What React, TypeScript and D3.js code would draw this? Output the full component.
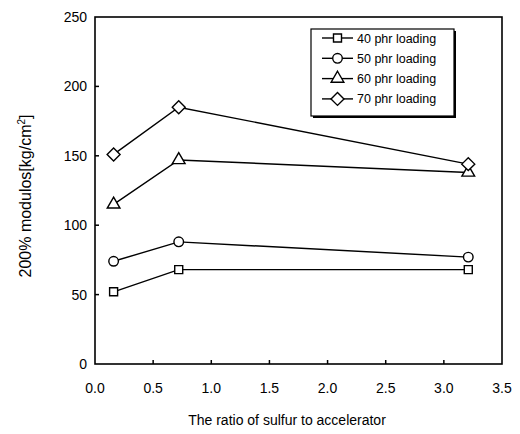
import React, { useEffect, useRef } from 'react';
import * as d3 from 'd3';

// ratio of sulfur to accelerator
const ratios = [0.16, 0.72, 3.21];
// 200% modulus values for each loading
const load40 = [52, 68, 68];
const load50 = [74, 88, 77];
const load60 = [115, 147, 138];
const load70 = [151, 185, 144];
const seriesNames = ['40 phr loading', '50 phr loading', '60 phr loading', '70 phr loading'];
const xTicks = [0, 0.5, 1, 1.5, 2, 2.5, 3, 3.5];
const yTicks = [0, 50, 100, 150, 200, 250];

// square turned on its corner, same width and height
const squareDiamond = {
    draw(ctx: any, size: number) {
        const r = Math.sqrt(size / 2);
        ctx.moveTo(0, -r);
        ctx.lineTo(r, 0);
        ctx.lineTo(0, r);
        ctx.lineTo(-r, 0);
        ctx.closePath();
    }
};

const App = () => {
    const svgRef = useRef<SVGSVGElement>(null);

    useEffect(() => {
        const W = 520, H = 434;
        const left = 95, right = 502, top = 17, bottom = 364;
        const font = 'Arial, "Liberation Sans", sans-serif';

        const svg = d3.select(svgRef.current);
        svg.selectAll('*').remove();
        svg.attr('width', W).attr('height', H);
        svg.append('rect').attr('width', W).attr('height', H).attr('fill', '#fff');

        const x = d3.scaleLinear().domain([0, 3.5]).range([left, right]);
        const y = d3.scaleLinear().domain([0, 250]).range([bottom, top]);

        // frame
        svg.append('rect')
            .attr('x', left).attr('y', top)
            .attr('width', right - left).attr('height', bottom - top)
            .attr('fill', 'none').attr('stroke', '#000').attr('stroke-width', 1.6);

        // inward ticks
        svg.append('g').selectAll('line').data(xTicks.slice(1, -1)).enter().append('line')
            .attr('x1', d => x(d)).attr('x2', d => x(d))
            .attr('y1', bottom).attr('y2', bottom - 4)
            .attr('stroke', '#000').attr('stroke-width', 1.5);
        svg.append('g').selectAll('line').data(yTicks.slice(1, -1)).enter().append('line')
            .attr('x1', left).attr('x2', left + 4)
            .attr('y1', d => y(d)).attr('y2', d => y(d))
            .attr('stroke', '#000').attr('stroke-width', 1.5);

        // tick labels
        svg.append('g').selectAll('text').data(xTicks).enter().append('text')
            .attr('x', d => x(d)).attr('y', 393)
            .attr('text-anchor', 'middle')
            .attr('font-family', font).attr('font-size', 14)
            .text(d => d.toFixed(1));
        svg.append('g').selectAll('text').data(yTicks).enter().append('text')
            .attr('x', 87).attr('y', d => y(d) + 5)
            .attr('text-anchor', 'end')
            .attr('font-family', font).attr('font-size', 14)
            .text(d => d);

        // axis titles
        svg.append('text')
            .attr('x', 287).attr('y', 425)
            .attr('text-anchor', 'middle')
            .attr('font-family', font).attr('font-size', 14)
            .text('The ratio of sulfur to accelerator');

        const yTitle = svg.append('text')
            .attr('transform', 'translate(31,196) rotate(-90)')
            .attr('text-anchor', 'middle')
            .attr('font-family', font).attr('font-size', 16);
        yTitle.append('tspan').text('200% modulos[kg/cm');
        yTitle.append('tspan').attr('dy', -6).attr('font-size', 10).text('2');
        yTitle.append('tspan').attr('dy', 6).text(']');

        // marker shapes
        const symbols = [d3.symbolSquare, d3.symbolCircle, d3.symbolTriangle, squareDiamond];
        const sizes = [64, 72, 70, 84];
        const allSeries = [load40, load50, load60, load70];

        const line = d3.line<number>()
            .x((_, i) => x(ratios[i]))
            .y(d => y(d));

        allSeries.forEach((vals, s) => {
            svg.append('path')
                .attr('d', line(vals))
                .attr('fill', 'none').attr('stroke', '#000').attr('stroke-width', 1.4);
            svg.append('g').selectAll('path').data(vals).enter().append('path')
                .attr('transform', (d, i) => `translate(${x(ratios[i])},${y(d)})`)
                .attr('d', d3.symbol().type(symbols[s] as any).size(sizes[s])())
                .attr('fill', '#fff').attr('stroke', '#000').attr('stroke-width', 1.4);
        });

        // legend with drop shadow
        const lg = svg.append('g');
        lg.append('rect').attr('x', 313).attr('y', 31).attr('width', 143).attr('height', 87).attr('fill', '#000');
        lg.append('rect').attr('x', 311).attr('y', 29).attr('width', 143).attr('height', 87)
            .attr('fill', '#fff').attr('stroke', '#000').attr('stroke-width', 1.2);
        seriesNames.forEach((name, s) => {
            const cy = 38 + s * 20.3;
            lg.append('line').attr('x1', 322).attr('x2', 353).attr('y1', cy).attr('y2', cy)
                .attr('stroke', '#000').attr('stroke-width', 1.4);
            lg.append('path')
                .attr('transform', `translate(337.5,${cy})`)
                .attr('d', d3.symbol().type(symbols[s] as any).size(sizes[s])())
                .attr('fill', '#fff').attr('stroke', '#000').attr('stroke-width', 1.4);
            lg.append('text')
                .attr('x', 357).attr('y', cy + 4.5)
                .attr('font-family', font).attr('font-size', 12.5)
                .text(name);
        });
    }, []);

    return <svg ref={svgRef} style={{ position: 'absolute', left: 0, top: 0 }}></svg>;
};

export default App;
